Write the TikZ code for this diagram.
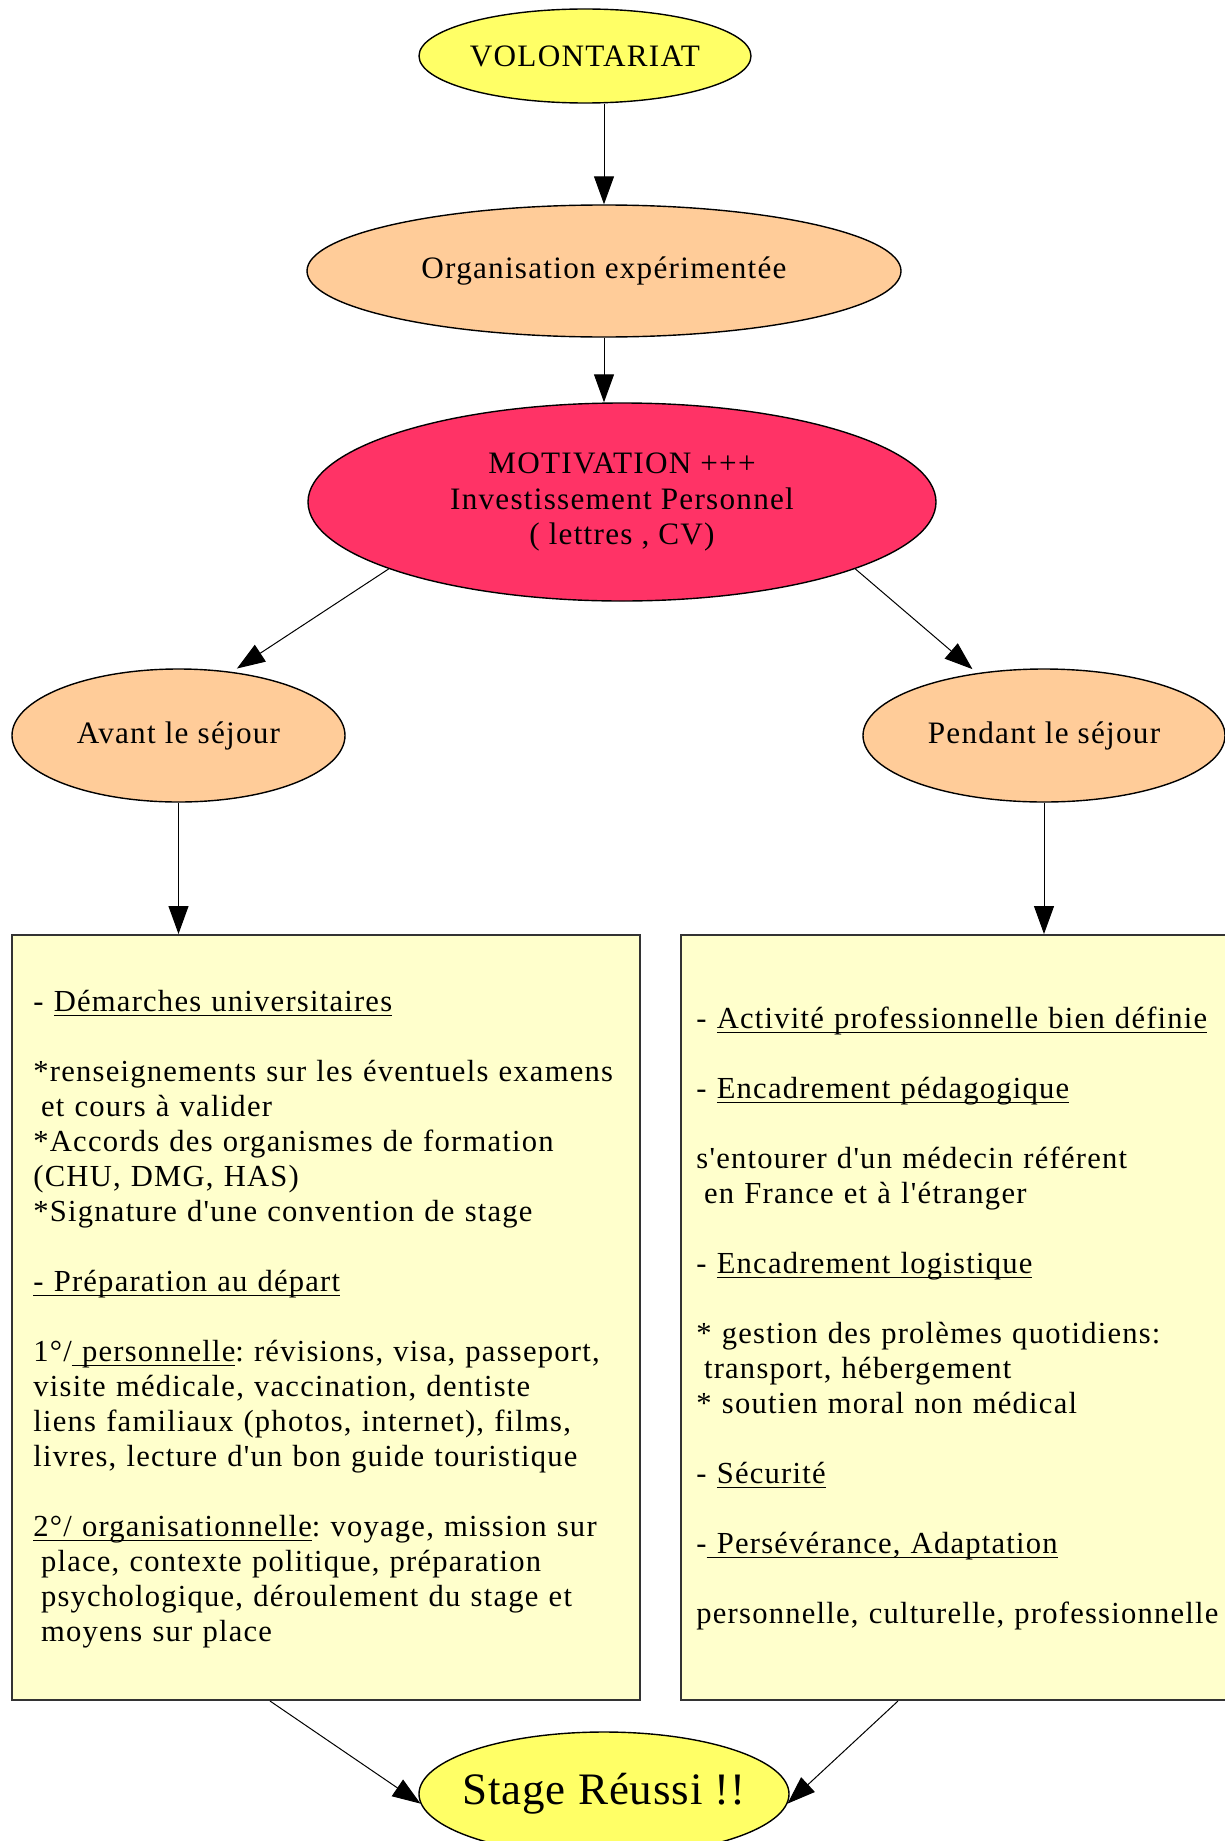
\documentclass[tikz,border=0pt]{standalone}
\usepackage{fontspec}
\setmainfont{Liberation Serif}
\newfontfamily\boxfont[LetterSpace=4]{Liberation Serif}
\newfontfamily\elfont[LetterSpace=4]{Liberation Serif}
\newfontfamily\stagefont[LetterSpace=2]{Liberation Serif}
\usetikzlibrary{shapes.geometric,arrows.meta,calc}
\newsavebox{\myulbox}
\newcommand{\myul}[1]{\leavevmode\sbox{\myulbox}{#1}\rlap{\rule[-2.4pt]{\wd\myulbox}{0.6pt}}\usebox{\myulbox}}
\definecolor{volyellow}{HTML}{FFFF66}
\definecolor{peach}{HTML}{FFCC99}
\definecolor{motred}{HTML}{FF3366}
\definecolor{boxyellow}{HTML}{FFFFCC}
\definecolor{boxborder}{HTML}{333333}
\begin{document}
\begin{tikzpicture}[x=0.5pt,y=-0.5pt,
  ell/.style={ellipse, draw=black, line width=0.7pt, inner xsep=-10pt, inner ysep=0pt,
    font=\elfont\fontsize{15.6}{17.7}\selectfont, align=center},
  infobox/.style={rectangle, draw=boxborder, line width=1pt, fill=boxyellow, inner sep=0pt},
  boxtext/.style={anchor=north west, inner sep=0pt, align=left, text width=#1,
    font=\boxfont\fontsize{15.3}{17.5}\selectfont\frenchspacing},
  conn/.style={line width=0.5pt, -{Triangle[length=14pt,width=10pt]}}]
\useasboundingbox (0,0) rectangle (1225,1841);
\clip (0,0) rectangle (1225,1841);

% ellipses
\node[ell, fill=volyellow, minimum width=166pt, minimum height=47pt] (vol) at (585,56) {VOLONTARIAT};
\node[ell, fill=peach, minimum width=297pt, minimum height=66pt] (org) at (604,271) {Organisation expérimentée};
\node[ell, fill=motred, minimum width=314pt, minimum height=99pt] (mot) at (622,502)
  {MOTIVATION +++\\Investissement Personnel\\( lettres , CV)};
\node[ell, fill=peach, minimum width=166.5pt, minimum height=66.5pt] (avant) at (178.5,735.5) {Avant le séjour};
\node[ell, fill=peach, minimum width=181pt, minimum height=66.5pt] (pendant) at (1044,735.5) {Pendant le séjour};
\node[ell, fill=volyellow, minimum width=185pt, minimum height=62pt,
  font=\stagefont\fontsize{22.5}{26}\selectfont] (stage) at (604,1794) {Stage Réussi !!};

% boxes
\node[infobox, minimum width=314pt, minimum height=382.5pt] (leftbox) at (326,1317.5) {};
\node[infobox, minimum width=289.5pt, minimum height=382.5pt] (rightbox) at (970.5,1317.5) {};

\node[boxtext=320pt] (lefttext) at (33,986.5) {\strut- \myul{Démarches universitaires}\\[17.5pt]
{}*renseignements sur les éventuels examens\\
\hspace*{0.25em}et cours à valider\\
{}*Accords des organismes de formation\\
(CHU, DMG, HAS)\\
{}*Signature d'une convention de stage\\[17.5pt]
\myul{- Préparation au départ}\\[17.5pt]
1°/\myul{\ personnelle}: révisions, visa, passeport,\\
visite médicale, vaccination, dentiste\\
liens familiaux (photos, internet), films,\\
livres, lecture d'un bon guide touristique\\[17.5pt]
\myul{2°/ organisationnelle}: voyage, mission sur\\
\hspace*{0.25em}place, contexte politique, préparation\\
\hspace*{0.25em}psychologique, déroulement du stage et\\
\hspace*{0.25em}moyens sur place};

\node[boxtext=300pt] (righttext) at (696,1003.5) {\strut- \myul{Activité professionnelle bien définie}\\[17.5pt]
- \myul{Encadrement pédagogique}\\[17.5pt]
s'entourer d'un médecin référent\\
\hspace*{0.25em}en France et à l'étranger\\[17.5pt]
- \myul{Encadrement logistique}\\[17.5pt]
{}* gestion des prolèmes quotidiens:\\
\hspace*{0.25em}transport, hébergement\\
{}* soutien moral non médical\\[17.5pt]
- \myul{Sécurité}\\[17.5pt]
-\myul{\ Persévérance, Adaptation}\\[17.5pt]
personnelle, culturelle, professionnelle};

% connectors
\draw[conn] (vol.south -| org.north) -- (org.north);
\draw[conn] (org.south) -- (org.south |- mot.north);
\draw[conn, shorten >=3pt] (mot.196) -- (avant.50);
\draw[conn, shorten >=3pt] (mot.344) -- (pendant.137);
\draw[conn] (avant.south) -- (avant.south |- leftbox.north);
\draw[conn] (pendant.south) -- (pendant.south |- rightbox.north);
\draw[conn] ($(leftbox.south west)+(259,0)$) -- (stage.183);
\draw[conn] ($(rightbox.south west)+(218,0)$) -- (stage.357);
\end{tikzpicture}
\end{document}
